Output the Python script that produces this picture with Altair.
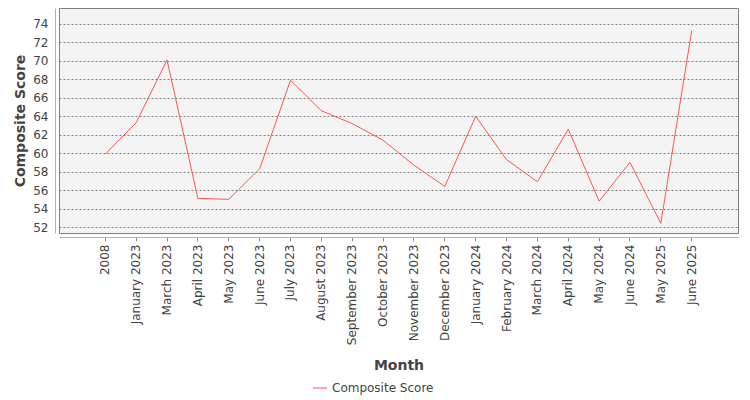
import altair as alt
import pandas as pd

months = ["2008", "January 2023", "March 2023", "April 2023", "May 2023", "June 2023",
          "July 2023", "August 2023", "September 2023", "October 2023", "November 2023",
          "December 2023", "January 2024", "February 2024", "March 2024", "April 2024",
          "May 2024", "June 2024", "May 2025", "June 2025"]
scores = [59.9, 63.3, 70.1, 55.1, 55.0, 58.3, 67.9, 64.6, 63.2, 61.4, 58.7, 56.4,
          64.0, 59.3, 56.9, 62.6, 54.8, 59.0, 52.4, 73.3]
series = "Composite Score"
y_ticks = list(range(52, 75, 2))

df = pd.DataFrame({
    'Month': months,
    'Composite Score': scores,
    'series': [series] * len(months),
})

font = 'DejaVu Sans'

line = alt.Chart(df).mark_line(strokeWidth=1).encode(
    x=alt.X('Month:N', sort=None, title='Month',
            scale=alt.Scale(type='band', paddingInner=0, paddingOuter=1),
            axis=alt.Axis(labelAngle=-90, labelAlign='right', labelBaseline='middle',
                          labelPadding=3, tickSize=4, offset=4, grid=False,
                          domainColor='#b0b0b0', tickColor='#909090',
                          titlePadding=14)),
    y=alt.Y('Composite Score:Q', title='Composite Score',
            scale=alt.Scale(domain=[51.35, 75.73], nice=False, zero=False),
            axis=alt.Axis(values=y_ticks, ticks=False, labelPadding=7, offset=4,
                          grid=True, gridDash=[2, 2], gridColor='#808080',
                          gridWidth=1, domainColor='#b0b0b0', titlePadding=5)),
    color=alt.Color('series:N', scale=alt.Scale(domain=[series], range=['#ff5555']),
                    legend=alt.Legend(title=None, orient='none', legendX=253, legendY=372,
                                      direction='horizontal', symbolType='stroke',
                                      symbolSize=200, symbolStrokeWidth=1,
                                      labelFont=font, labelFontSize=12,
                                      labelColor='#444444')),
).properties(
    width=679,
    height=225,
    autosize=alt.AutoSizeParams(type='none'),
    padding={'left': 51, 'top': 0, 'right': 4, 'bottom': 165},
    background='white',
)

chart = line.configure_view(
    fill='#f4f4f4',
    stroke='#808080',
    strokeWidth=1,
).configure_axis(
    labelFont=font,
    labelFontSize=12,
    labelColor='#444444',
    titleFont=font,
    titleFontSize=14,
    titleFontWeight='bold',
    titleColor='#444444',
    labelOverlap=False,
)

chart.save("out.html", embed_options={"renderer": "svg", "actions": False})
